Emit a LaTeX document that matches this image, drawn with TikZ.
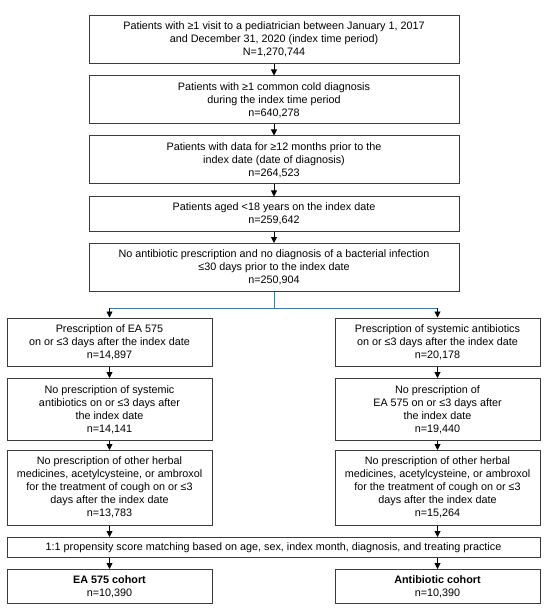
\documentclass[tikz,border=0pt]{standalone}
\usepackage{fontspec}
\setmainfont{Liberation Sans}
\usetikzlibrary{arrows.meta}
\definecolor{edge}{RGB}{60,60,60}
\definecolor{branch}{RGB}{60,125,160}
\tikzset{
  box/.style={draw=edge, line width=1pt, inner sep=0pt, align=center,
    font=\fontsize{10.8}{13}\selectfont, anchor=center},
  arr/.style={draw=black, line width=0.9pt, -{Triangle[length=6pt,width=6pt]}},
  brl/.style={draw=branch, line width=1pt}
}
\newcommand{\bx}[6]{%
  \node[box, minimum width={(#4-#2)*1pt}, minimum height={(#5-#3)*1pt}] (#1) at ({(#2+#4)/2},{(#3+#5)/2}) {#6};}
\begin{document}
\begin{tikzpicture}[x=1pt,y=-1pt]
\useasboundingbox (0,0) rectangle (550,612);
\bx{b1}{89}{15.5}{459}{63.5}{Patients with ≥1 visit to a pediatrician between January 1, 2017\\and December 31, 2020 (index time period)\\N=1,270,744}
\bx{b2}{89}{76}{459}{124}{Patients with ≥1 common cold diagnosis\\during the index time period\\n=640,278}
\bx{b3}{89}{136}{459}{184}{Patients with data for ≥12 months prior to the\\index date (date of diagnosis)\\n=264,523}
\bx{b4}{89}{197}{459}{231}{Patients aged <18 years on the index date\\n=259,642}
\bx{b5}{89}{243.5}{459}{291.5}{No antibiotic prescription and no diagnosis of a bacterial infection\\≤30 days prior to the index date\\n=250,904}
\bx{l1}{7}{318}{212}{366.5}{Prescription of EA 575\\on or ≤3 days after the index date\\n=14,897}
\bx{r1}{335}{318}{540}{366.5}{Prescription of systemic antibiotics\\on or ≤3 days after the index date\\n=20,178}
\bx{l2}{7}{378.5}{212}{440.5}{No prescription of systemic\\antibiotics on or ≤3 days after\\the index date\\n=14,141}
\bx{r2}{335}{378.5}{540}{440.5}{No prescription of\\EA 575 on or ≤3 days after\\the index date\\n=19,440}
\bx{l3}{7}{450.5}{212}{525}{No prescription of other herbal\\medicines, acetylcysteine, or ambroxol\\for the treatment of cough on or ≤3\\days after the index date\\n=13,783}
\bx{r3}{335}{450.5}{540}{525}{No prescription of other herbal\\medicines, acetylcysteine, or ambroxol\\for the treatment of cough on or ≤3\\days after the index date\\n=15,264}
\bx{m}{7}{537.5}{540}{557.5}{1:1 propensity score matching based on age, sex, index month, diagnosis, and treating practice}
\bx{lb}{7}{569.5}{212}{603.5}{\textbf{EA 575 cohort}\\n=10,390}
\bx{rb}{335}{569.5}{540}{603.5}{\textbf{Antibiotic cohort}\\n=10,390}
\draw[arr] (b1) -- (b2);
\draw[arr] (b2) -- (b3);
\draw[arr] (b3) -- (b4);
\draw[arr] (b4) -- (b5);
\coordinate (split) at (274,308);
\coordinate (sl) at (l1.north |- split);
\coordinate (sr) at (r1.north |- split);
\draw[brl] (b5.south) -- (split);
\draw[brl] (sl) -- (sr);
\draw[arr] (sl) -- (l1.north);
\draw[arr] (sr) -- (r1.north);
\draw[arr] (l1) -- (l2);
\draw[arr] (l2) -- (l3);
\draw[arr] (r1) -- (r2);
\draw[arr] (r2) -- (r3);
\draw[arr] (l3.south) -- (l3.south |- m.north);
\draw[arr] (r3.south) -- (r3.south |- m.north);
\draw[arr] (lb.north |- m.south) -- (lb.north);
\draw[arr] (rb.north |- m.south) -- (rb.north);
\end{tikzpicture}
\end{document}
